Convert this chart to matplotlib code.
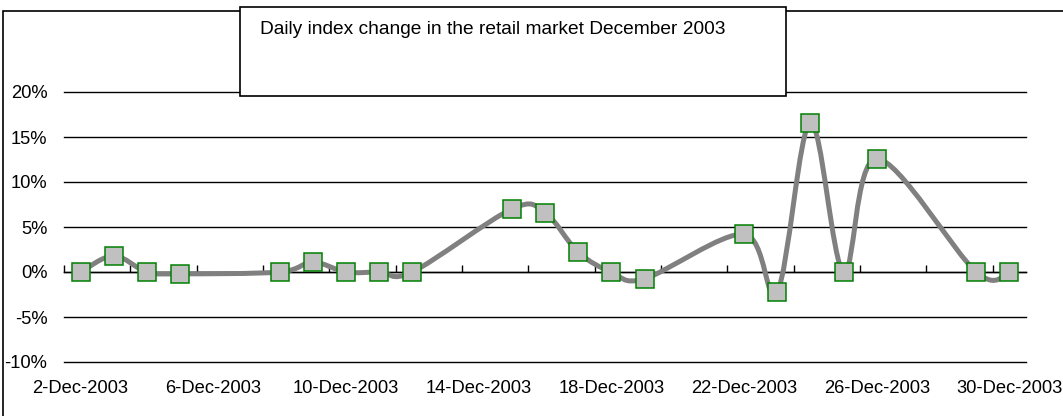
import matplotlib
matplotlib.use("Agg")
import matplotlib.pyplot as plt
import matplotlib.dates as mdates
from matplotlib.path import Path
from matplotlib.patches import PathPatch, Rectangle
from matplotlib.ticker import FixedLocator, FuncFormatter, NullFormatter
import numpy as np
import datetime as dt

# ---------------- data ----------------
dates = ["2003-12-02", "2003-12-03", "2003-12-04", "2003-12-05", "2003-12-08",
         "2003-12-09", "2003-12-10", "2003-12-11", "2003-12-12", "2003-12-15",
         "2003-12-16", "2003-12-17", "2003-12-18", "2003-12-19", "2003-12-22",
         "2003-12-23", "2003-12-24", "2003-12-25", "2003-12-26", "2003-12-29",
         "2003-12-30"]
changes_pct = [0.0, 1.8, 0.0, -0.2, 0.0,
               1.1, 0.0, 0.0, 0.0, 7.0,
               6.6, 2.2, 0.0, -0.75, 4.2,
               -2.2, 16.6, 0.0, 12.6, 0.0,
               0.0]
label_dates = ["2003-12-02", "2003-12-06", "2003-12-10", "2003-12-14",
               "2003-12-18", "2003-12-22", "2003-12-26", "2003-12-30"]
y_ticks = [-10, -5, 0, 5, 10, 15, 20]
title = "Daily index change in the retail market December 2003"

# ---------------- figure ----------------
W, H = 1063, 416
plt.rcParams['font.family'] = ['Liberation Sans', 'DejaVu Sans']
fig = plt.figure(figsize=(W / 100, H / 100), dpi=100)
fig.patch.set_facecolor('white')

ax_left, ax_right, ax_top, ax_bot = 64, 1026, 92, 362
ax = fig.add_axes([ax_left / W, 1 - ax_bot / H, (ax_right - ax_left) / W, (ax_bot - ax_top) / H])
ax.set_facecolor('none')

to_dt = lambda s: dt.datetime.strptime(s, "%Y-%m-%d")
xs = mdates.date2num([to_dt(s) for s in dates])
ys = np.array(changes_pct) / 100.0

# smoothed line (Excel-like cubic Bezier through the points)
pts = np.column_stack([xs, ys])
n = len(pts)
verts = [tuple(pts[0])]
codes = [Path.MOVETO]
for i in range(n - 1):
    p0 = pts[i - 1] if i > 0 else pts[i]
    p1 = pts[i]
    p2 = pts[i + 1]
    p3 = pts[i + 2] if i + 2 < n else pts[i + 1]
    c1 = p1 + (p2 - p0) / 6.0
    c2 = p2 - (p3 - p1) / 6.0
    verts += [tuple(c1), tuple(c2), tuple(p2)]
    codes += [Path.CURVE4, Path.CURVE4, Path.CURVE4]
ax.add_patch(PathPatch(Path(verts, codes), facecolor='none', edgecolor='#808080',
                       lw=3.6, capstyle='round', joinstyle='round', zorder=3))
ax.plot(xs, ys, linestyle='none', marker='s', markersize=12.5,
        markerfacecolor='#C0C0C0', markeredgecolor='#008000', markeredgewidth=1.1, zorder=4)

# limits
x0 = mdates.date2num(to_dt(dates[0])) - 0.5
x1 = mdates.date2num(to_dt(dates[-1])) + 0.5
ax.set_xlim(x0, x1)
ax.set_ylim(y_ticks[0] / 100, y_ticks[-1] / 100)

# y axis
ax.yaxis.set_major_locator(FixedLocator([v / 100 for v in y_ticks]))
ax.yaxis.set_major_formatter(FuncFormatter(lambda v, p: f"{int(round(v * 100))}%"))
ax.tick_params(axis='y', length=0, pad=12, labelsize=13.2)
ax.yaxis.grid(True, color='black', lw=1.0)
for gl in ax.get_ygridlines():
    gl.set_clip_on(False)
ax.set_axisbelow(True)

# x axis labels at bottom
lab_x = mdates.date2num([to_dt(s) for s in label_dates])
ax.xaxis.set_major_locator(FixedLocator(lab_x))
ax.xaxis.set_major_formatter(FuncFormatter(
    lambda v, p: f"{mdates.num2date(v).day}-{mdates.num2date(v).strftime('%b-%Y')}"))
ax.tick_params(axis='x', length=0, pad=13, labelsize=13.2)
for s in ax.spines.values():
    s.set_visible(False)

# category axis line at 0 with tick marks pointing up
zero_pos = (0 - y_ticks[0]) / (y_ticks[-1] - y_ticks[0])
sec = ax.secondary_xaxis(zero_pos)
tick_pos = np.arange(x0, x1, 2.0)
sec.xaxis.set_major_locator(FixedLocator(tick_pos))
sec.xaxis.set_major_formatter(NullFormatter())
sec.tick_params(axis='x', which='both', direction='in', length=5, width=1.0, color='black',
                bottom=True, top=False)
for s in sec.spines.values():
    s.set_linewidth(1.0)

# outer frame (cropped on right / bottom)
fig.add_artist(Rectangle((3 / W, -0.2), 1.5, (1 - 11 / H) + 0.2, transform=fig.transFigure,
                         facecolor='none', edgecolor='black', lw=1.2, zorder=1))
# title box
fig.add_artist(Rectangle((240 / W, 1 - 96 / H), (786 - 240) / W, (96 - 7) / H,
                         transform=fig.transFigure, facecolor='white', edgecolor='black',
                         lw=1.2, zorder=10))
fig.text(260 / W, 1 - 29 / H, title, ha='left', va='center', fontsize=13.8, zorder=11)

fig.savefig("out.png", dpi=100, facecolor='white')
